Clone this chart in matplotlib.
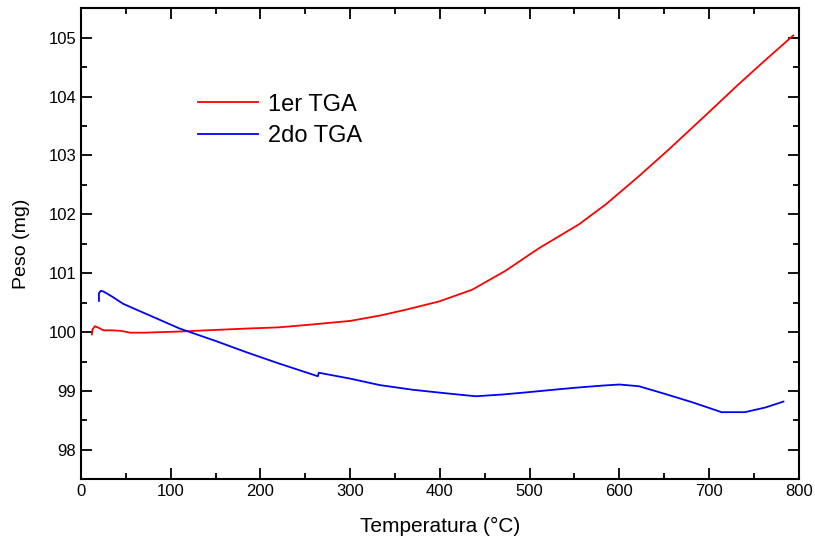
import numpy as np
import matplotlib.pyplot as plt
from matplotlib.ticker import MultipleLocator

plt.rcParams['font.family'] = ['Liberation Sans', 'DejaVu Sans']

# 1er TGA
temp_1 = [12, 13, 15.5, 20, 25, 35, 45, 55, 70, 90, 110, 140, 184, 220, 258,
          300, 333, 362, 399, 436, 473, 511, 555, 585, 622, 655, 696, 733, 765, 794]
peso_1 = [99.96, 100.05, 100.10, 100.07, 100.03, 100.03, 100.02, 99.99, 99.99, 100.0,
          100.01, 100.03, 100.06, 100.08, 100.13, 100.19, 100.28, 100.38, 100.52, 100.72,
          101.04, 101.43, 101.83, 102.17, 102.65, 103.10, 103.68, 104.21, 104.65, 105.04]

# 2do TGA
temp_2 = [20, 20, 22, 25, 35, 47, 80, 110, 150, 184, 220, 264, 265, 300, 333, 370,
          407, 440, 470, 499, 533, 555, 580, 600, 622, 651, 681, 714, 740, 763, 783]
peso_2 = [100.53, 100.66, 100.70, 100.69, 100.60, 100.48, 100.26, 100.06, 99.85, 99.66,
          99.47, 99.25, 99.31, 99.21, 99.10, 99.02, 98.96, 98.91, 98.94, 98.98, 99.03,
          99.06, 99.09, 99.11, 99.08, 98.95, 98.81, 98.64, 98.64, 98.72, 98.82]

fig = plt.figure(figsize=(8.15, 5.39), dpi=100)
ax = fig.add_axes([0.0994, 0.1108, 0.8806, 0.8738])

ax.plot(temp_1, peso_1, color='#ff0000', lw=1.3, label='1er TGA')
ax.plot(temp_2, peso_2, color='#0000ff', lw=1.3, label='2do TGA')

ax.set_xlim(0, 800)
ax.set_ylim(97.5, 105.5)
ax.xaxis.set_major_locator(MultipleLocator(100))
ax.xaxis.set_minor_locator(MultipleLocator(50))
ax.yaxis.set_major_locator(MultipleLocator(1))
ax.yaxis.set_minor_locator(MultipleLocator(0.5))
ax.tick_params(which='both', direction='in', top=True, right=True, width=1.3, labelsize=12)
ax.tick_params(which='major', length=8)
ax.tick_params(which='minor', length=4)
for s in ax.spines.values():
    s.set_linewidth(1.5)

ax.set_xlabel('Temperatura (°C)', fontsize=15, labelpad=13)
ax.set_ylabel('Peso (mg)', fontsize=14, labelpad=13)

ax.legend(loc='upper left', bbox_to_anchor=(0.150, 0.839), frameon=False,
          fontsize=17, handlelength=2.54, handletextpad=0.42, labelspacing=0.42,
          borderaxespad=0)

fig.savefig('out.png', dpi=100)
